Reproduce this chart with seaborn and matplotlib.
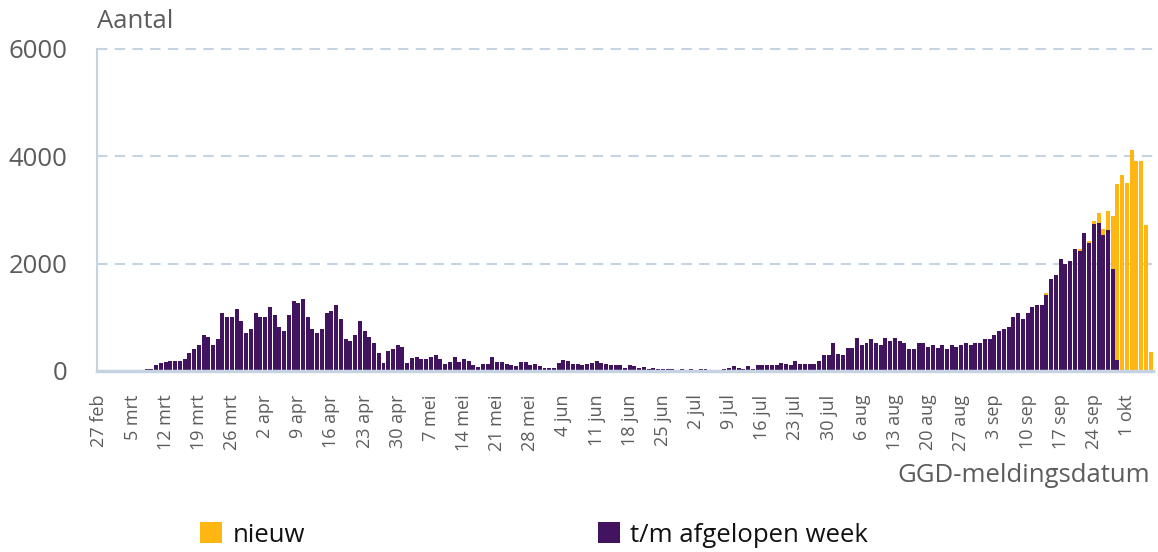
import numpy as np
import pandas as pd
import matplotlib
matplotlib.use('Agg')
from matplotlib import pyplot as plt
from matplotlib.patches import Patch
import seaborn as sns

sns.set_style('white')
plt.rcParams['font.family'] = ['Open Sans', 'DejaVu Sans']

# Daily counts per GGD-meldingsdatum, 27 feb 2020 .. 6 okt 2020 (one value per day).
start_date = '2020-02-27'
t_m_week = [
    1, 1, 4, 4, 6, 10, 10,
    18, 22, 25, 30, 32, 105, 150,
    168, 180, 185, 180, 217, 330, 416,
    478, 664, 633, 478, 602, 1080, 1006,
    1006, 1149, 931, 708, 789, 1080, 1006,
    1006, 1192, 1037, 820, 745, 1037, 1304,
    1267, 1335, 1006, 789, 708, 789, 1080,
    1118, 1236, 975, 602, 559, 677, 931,
    745, 633, 522, 335, 149, 373, 416,
    478, 447, 149, 240, 261, 230, 230,
    261, 292, 217, 137, 168, 261, 168,
    220, 186, 118, 75, 137, 137, 261,
    168, 168, 137, 118, 87, 168, 168,
    106, 137, 87, 62, 62, 62, 149,
    211, 186, 137, 124, 118, 137, 155,
    180, 149, 124, 106, 106, 118, 62,
    106, 87, 56, 75, 43, 62, 43,
    37, 37, 37, 25, 37, 25, 31,
    25, 37, 37, 19, 12, 25, 31,
    62, 87, 62, 43, 87, 43, 118,
    118, 118, 118, 118, 155, 137, 106,
    186, 137, 137, 137, 137, 186, 292,
    292, 522, 323, 292, 435, 435, 621,
    491, 522, 590, 528, 478, 621, 553,
    621, 559, 515, 404, 404, 522, 522,
    447, 478, 435, 478, 404, 478, 441,
    478, 522, 478, 522, 522, 590, 590,
    677, 739, 776, 820, 1006, 1080, 975,
    1080, 1192, 1223, 1223, 1410, 1720, 1782,
    2093, 1987, 2049, 2279, 2236, 2571, 2385,
    2740, 2760, 2540, 2620, 1900, 200, 0,
    0, 0, 0, 0, 0, 0,
]
# 'nieuw' on top, for the last 23 days (14 sep .. 6 okt)
nieuw_last = [49, 0, 0, 0, 0, 0, 0, 43, 0, 37, 60, 190, 110, 360, 980,
              3280, 3660, 3510, 4110, 3920, 3920, 2720, 350]
month_nl = ['jan', 'feb', 'mrt', 'apr', 'mei', 'jun', 'jul', 'aug', 'sep', 'okt', 'nov', 'dec']
y_ticks = [0, 2000, 4000, 6000]

PURPLE = '#42145f'
YELLOW = '#ffb612'
AXIS = '#c6d3e3'
TEXT = '#5c5c5c'

n = len(t_m_week)
nieuw = [0] * (n - len(nieuw_last)) + nieuw_last
dates = pd.date_range(start_date, periods=n, freq='D')
df = pd.DataFrame({'dag': np.arange(n), 'week': t_m_week, 'nieuw': nieuw})
df['totaal'] = df['week'] + df['nieuw']

fig = plt.figure(figsize=(11.58, 5.52), dpi=100)
ax = fig.add_axes([97 / 1158, 1 - 371 / 552, (1153 - 97) / 1158, (371 - 49) / 552])

sns.barplot(data=df, x='dag', y='totaal', color=YELLOW, saturation=1, width=0.84,
            errorbar=None, linewidth=0, ax=ax)
sns.barplot(data=df, x='dag', y='week', color=PURPLE, saturation=1, width=0.84,
            errorbar=None, linewidth=0, ax=ax)

ax.set_xlim(-0.5, n - 0.5)
ax.set_ylim(0, 6000)
ax.set_xlabel('')
ax.set_ylabel('')

# x ticks every week
tick_pos = list(range(0, n, 7))
tick_lab = [f'{dates[i].day} {month_nl[dates[i].month - 1]}' for i in tick_pos]
ax.set_xticks(tick_pos)
ax.set_xticklabels(tick_lab, rotation=90, fontsize=13, color=TEXT, va='top')
ax.tick_params(axis='x', length=5, width=2.5, color=AXIS, pad=12, direction='out')

ax.set_yticks(y_ticks)
ax.set_yticklabels([str(v) for v in y_ticks], fontsize=18.5, color=TEXT)
ax.tick_params(axis='y', length=0, pad=21)

ax.yaxis.grid(True, color=AXIS, linestyle=(0, (5, 3.5)), linewidth=1.5)
ax.xaxis.grid(False)
ax.set_axisbelow(True)
for gl in ax.get_ygridlines():
    gl.set_clip_on(False)

for s in ['top', 'right']:
    ax.spines[s].set_visible(False)
ax.spines['left'].set_color(AXIS)
ax.spines['left'].set_linewidth(1.5)
ax.spines['bottom'].set_color(AXIS)
ax.spines['bottom'].set_linewidth(2.5)

fig.text(97 / 1158, 1 - 22 / 552, 'Aantal', fontsize=18.5, color=TEXT, ha='left', va='center')
fig.text(1150 / 1158, 1 - 476 / 552, 'GGD-meldingsdatum', fontsize=18.5, color=TEXT,
         ha='right', va='center')

# legend, two separate entries
for label, col, x0 in [('nieuw', YELLOW, 200), ('t/m afgelopen week', PURPLE, 598)]:
    fig.legend(handles=[Patch(facecolor=col, edgecolor='none', label=label)],
               loc='center left', bbox_to_anchor=(x0 / 1158, 1 - 535 / 552),
               frameon=False, fontsize=18.5, handlelength=0.86, handleheight=0.86,
               handletextpad=0.4, borderpad=0, borderaxespad=0, labelcolor='#111111')

fig.savefig('out.png', dpi=100)
